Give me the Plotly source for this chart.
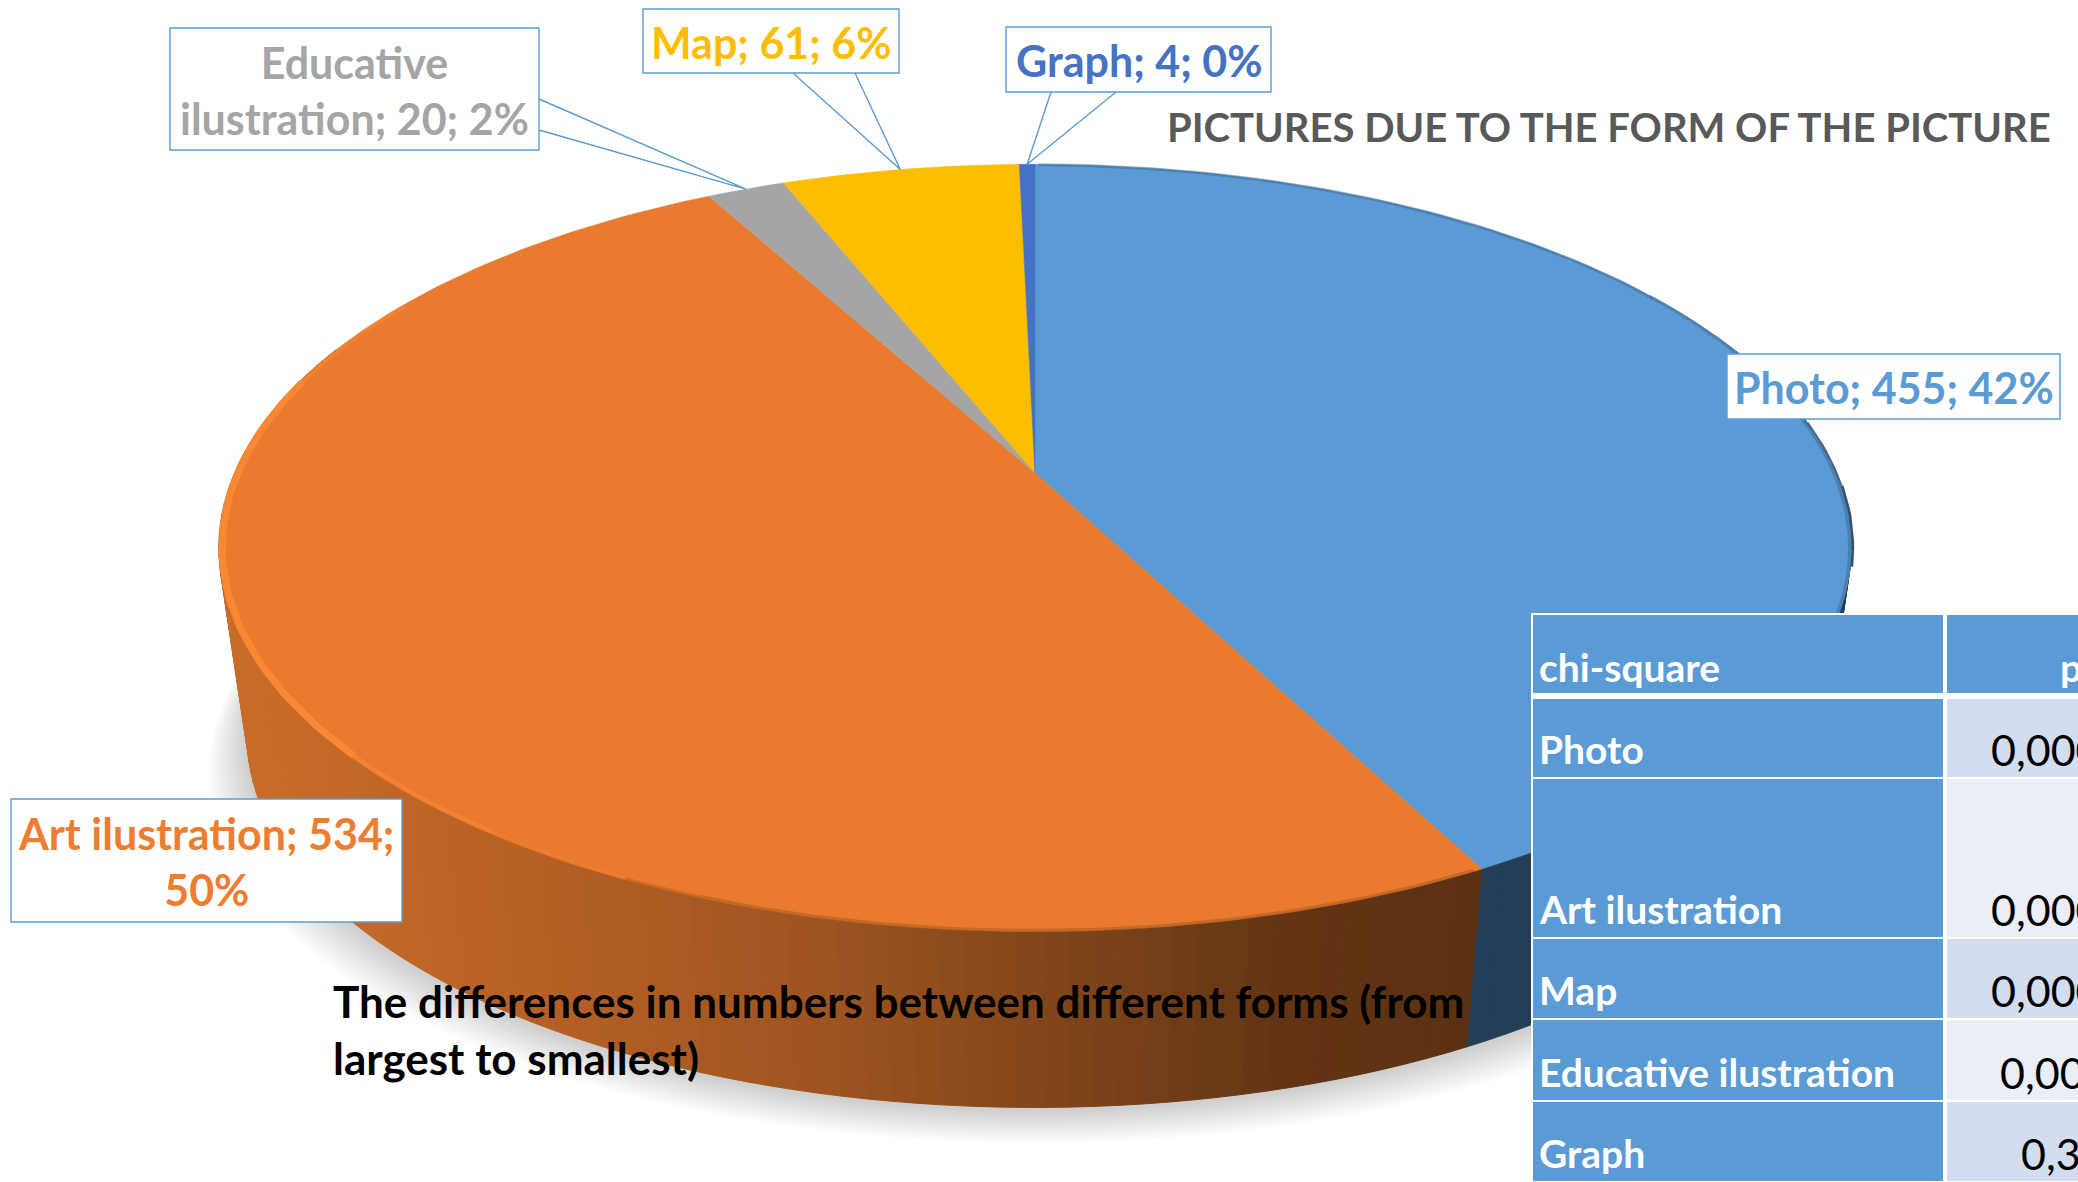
import math
import plotly.graph_objects as go

# ---------- data ----------
categories = ["Photo", "Art ilustration", "Educative ilustration", "Map", "Graph"]
counts = [455, 534, 20, 61, 4]
percents = [42, 50, 2, 6, 0]
slice_colors = ["#5B9BD5", "#EA7B2E", "#A5A5A5", "#FDBD00", "#4472C4"]

table_header = ["chi-square", "p"]
table_rows = ["Photo", "Art ilustration", "Map", "Educative ilustration", "Graph"]
table_p = ["0,000", "0,000", "0,000", "0,00", "0,3"]

title_text = "PICTURES DUE TO THE FORM OF THE PICTURE"
note_text = "The differences in numbers between different forms (from<br>largest to smallest)"

# ---------- projection of the tilted disc ----------
W, H = 2078, 1182
CX, TOP_Y, BOT_Y = 1035.0, 473.0, 665.0
A, B, P = 800.5, 369.0, 0.1952
BOT_S = 0.965
FONT = "Lato"


def project(deg, bottom=False, scale=1.0):
    t = math.radians(deg)
    u, v = math.sin(t) * scale, math.cos(t) * scale
    w = 1 + P * v
    s = BOT_S if bottom else 1.0
    y0 = BOT_Y if bottom else TOP_Y
    return CX + s * A * u / w, y0 - s * B * v / w


def arc(d0, d1, bottom=False, step=1.0, scale=1.0):
    n = max(2, int(abs(d1 - d0) / step) + 1)
    pts = [project(d0 + (d1 - d0) * i / n, bottom, scale) for i in range(n + 1)]
    return [p[0] for p in pts], [p[1] for p in pts]


total = sum(counts)
edges = [0.0]
for c in counts:
    edges.append(edges[-1] + c / total * 360)

fig = go.Figure()


def poly(xs, ys, color, line=None, lw=1):
    fig.add_trace(go.Scatter(x=xs, y=ys, mode="lines", fill="toself", fillcolor=color,
                             line=dict(color=line or color, width=lw),
                             hoverinfo="skip", showlegend=False))


def stroke(xs, ys, color, width):
    fig.add_trace(go.Scatter(x=xs, y=ys, mode="lines", line=dict(color=color, width=width),
                             hoverinfo="skip", showlegend=False))


def mix(stops, x):
    if x <= stops[0][0]:
        c = stops[0][1]
        return f"rgb({c[0]},{c[1]},{c[2]})"
    for (x0, c0), (x1, c1) in zip(stops, stops[1:]):
        if x <= x1:
            f = (x - x0) / (x1 - x0)
            rgb = [round(c0[i] + (c1[i] - c0[i]) * f) for i in range(3)]
            return f"rgb({rgb[0]},{rgb[1]},{rgb[2]})"
    c = stops[-1][1]
    return f"rgb({c[0]},{c[1]},{c[2]})"


orange_wall = [(240, (201, 108, 41)), (530, (182, 96, 37)), (800, (160, 85, 33)),
               (1060, (128, 69, 26)), (1300, (98, 52, 20)), (1480, (91, 49, 18))]
blue_wall = [(1460, (35, 62, 86)), (1700, (36, 64, 88)), (1860, (30, 62, 92))]

# soft ground shadow
for k in range(16, 0, -1):
    f = k / 16
    xs, ys = [], []
    for d in range(0, 360, 2):
        x, y = project(d, True)
        xs.append(CX + (x - CX) * (1 + 0.05 * f))
        ys.append(y + 2 + 34 * f)
    poly(xs, ys, "rgba(0,0,0,0.012)", line="rgba(0,0,0,0)", lw=0)

# side wall, split in narrow quads; the back of the disc is hidden so it is left out
for i in (0, 1):
    stops = blue_wall if i == 0 else orange_wall
    d0, d1 = edges[i], edges[i + 1]
    n = max(1, int((d1 - d0) / 1.5))
    for j in range(n):
        a0 = d0 + (d1 - d0) * j / n
        a1 = d0 + (d1 - d0) * (j + 1) / n
        if a1 < 70 or a0 > 290:
            continue
        p0, p1 = project(a0), project(a1)
        q0, q1 = project(a1, True), project(a0, True)
        c = mix(stops, (p0[0] + p1[0]) / 2)
        poly([p0[0], p1[0], q0[0], q1[0], p0[0]], [p0[1], p1[1], q0[1], q1[1], p0[1]], c)

# dark rim on the right of the blue slice, growing downward
for d0, d1, lw, col in [(58, 70, 1.5, "rgba(44,80,115,0.55)"), (70, 82, 2.5, "rgba(40,72,104,0.75)"),
                        (82, 92, 4, "rgba(36,66,94,0.8)"), (92, 104, 6, "rgba(34,62,88,0.9)")]:
    xs, ys = arc(d0, d1)
    stroke(xs, ys, col, lw)

# top face
for i in range(5):
    xs, ys = arc(edges[i], edges[i + 1])
    poly([CX] + xs + [CX], [TOP_Y] + ys + [TOP_Y], slice_colors[i], lw=0.5)

# soft edge between top face and wall at the front
xs, ys = arc(edges[1] + 0.5, 205, scale=0.998)
stroke(xs, ys, "rgba(120,62,20,0.3)", 3)
xs, ys = arc(edges[0] + 0.3, 120, scale=0.998)
stroke(xs, ys, "rgba(40,70,96,0.3)", 3)

# bright bevel on the left of the orange slice, fading toward the front and the back
for d0, d1, lw, col in [(200, 215, 2, "rgba(252,140,56,0.25)"), (215, 228, 4, "rgba(252,140,56,0.5)"),
                        (228, 285, 7, "rgba(253,140,54,0.8)"), (285, 300, 4, "rgba(252,140,56,0.45)")]:
    xs, ys = arc(d0, d1, scale=0.996)
    stroke(xs, ys, col, lw)

# callout leaders, tip on the middle of each small slice
leader_color = "#5B9BD5"
leaders = {2: [(539, 99), (539, 130)], 3: [(793, 73), (855, 73)], 4: [(1051, 92), (1116, 92)]}
for i, base in leaders.items():
    tip = project((edges[i] + edges[i + 1]) / 2)
    stroke([base[0][0], tip[0], base[1][0]], [base[0][1], tip[1], base[1][1]], leader_color, 1.4)

shapes = []
annotations = []


def rect(x0, y0, x1, y1, fill, line=None, lw=0):
    shapes.append(dict(type="rect", xref="x", yref="y", x0=x0, y0=y0, x1=x1, y1=y1,
                       fillcolor=fill, line=dict(color=line or fill, width=lw), layer="above"))


def text(x, y, s, size, color, xanchor="center", weight=700, align="center"):
    annotations.append(dict(x=x, y=y, xref="x", yref="y", text=s, showarrow=False,
                            xanchor=xanchor, yanchor="middle", align=align,
                            font=dict(family=FONT, size=size, color=color, weight=weight)))


# data labels
boxes = {
    2: (170, 28, 539, 150, "Educative<br>ilustration"),
    3: (643, 9, 899, 73, "Map"),
    4: (1006, 27, 1271, 92, "Graph"),
    0: (1727, 354, 2060, 419, "Photo"),
    1: (11, 799, 402, 922, "Art ilustration"),
}
for i, (x0, y0, x1, y1, name) in boxes.items():
    rect(x0, y0, x1, y1, "white", leader_color, 1.4)
    if i == 2:
        s = f"Educative<br>ilustration; {counts[i]}; {percents[i]}%"
    elif i == 1:
        s = f"{name}; {counts[i]};<br>{percents[i]}%"
    else:
        s = f"{name}; {counts[i]}; {percents[i]}%"
    text((x0 + x1) / 2, (y0 + y1) / 2 + 1, s, 43, slice_colors[i] if i != 1 else "#EE7D31")

text(1609, 127, title_text, 40, "#595959")
text(331, 1029, note_text, 44, "#000000", xanchor="left", align="left")

# chi-square table, running past the right edge of the page
blue = "#5B9BD5"
col_x = [1533, 1945, 2200]
row_y = [(615, 693), (699, 777), (779, 937), (939, 1018), (1020, 1100), (1102, 1181)]
row_fill = ["#D2DEEF", "#EAEFF7", "#D2DEEF", "#EAEFF7", "#D2DEEF"]
rect(col_x[0] - 2, 613, col_x[2], 1182, "white")
for r, (y0, y1) in enumerate(row_y):
    rect(col_x[0], y0, col_x[1] - 2, y1, blue)
    rect(col_x[1] + 2, y0, col_x[2], y1, blue if r == 0 else row_fill[r - 1])

text(1537, 667, table_header[0], 39, "white", xanchor="left")
text(2058, 667, table_header[1], 39, "white", xanchor="left")
p_left = [1989, 1989, 1989, 1998, 2019]
for r, name in enumerate(table_rows):
    y1 = row_y[r + 1][1]
    text(1537, y1 - 28, name, 39, "white", xanchor="left")
    text(p_left[r], y1 - 28, table_p[r], 43, "#000000", xanchor="left", weight=400)

fig.update_layout(
    width=W, height=H, margin=dict(l=0, r=0, t=0, b=0),
    paper_bgcolor="white", plot_bgcolor="white", showlegend=False, hovermode=False,
    xaxis=dict(range=[0, W], visible=False, fixedrange=True),
    yaxis=dict(range=[H, 0], visible=False, fixedrange=True),
    shapes=shapes, annotations=annotations,
)
fig.write_html("out.html", post_script="document.body.style.margin='0';document.documentElement.style.overflow='hidden';",
               config=dict(displayModeBar=False))
